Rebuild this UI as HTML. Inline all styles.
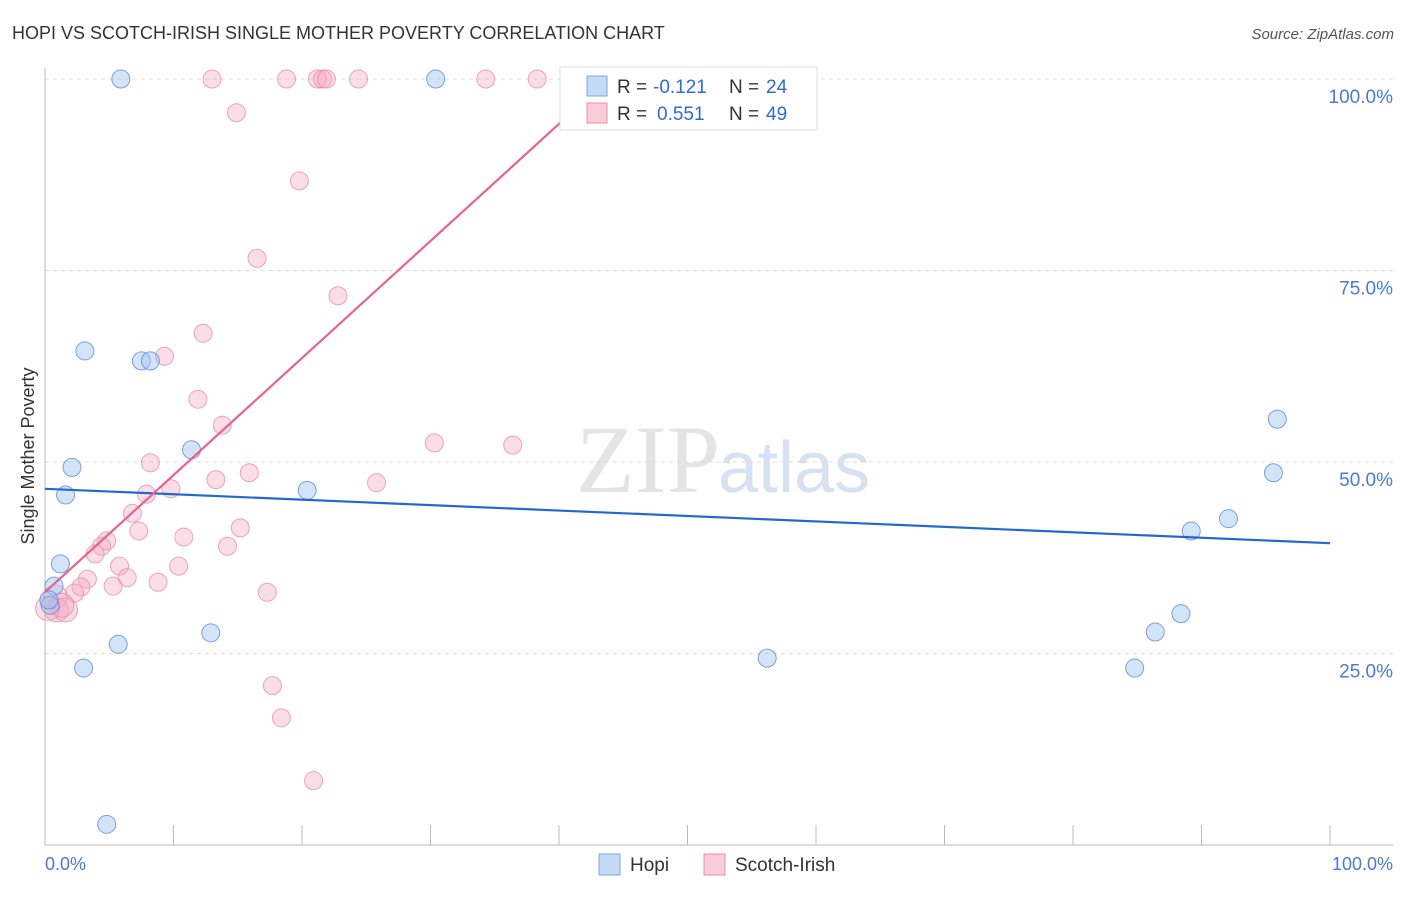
<!DOCTYPE html>
<html><head><meta charset="utf-8"><style>
body{margin:0;background:#fff;font-family:"Liberation Sans",sans-serif}
</style></head><body>
<svg width="1406" height="892" xmlns="http://www.w3.org/2000/svg">
<text x="12" y="39" font-size="18" fill="#333">HOPI VS SCOTCH-IRISH SINGLE MOTHER POVERTY CORRELATION CHART</text>
<text x="1394" y="39" font-size="15" fill="#555" font-style="italic" text-anchor="end">Source: ZipAtlas.com</text>
<text x="720" y="492" font-size="96" fill="#e4e4e4" text-anchor="end" font-family="Liberation Serif">ZIP</text>
<text x="718" y="492" font-size="72" fill="#d6e2f2">atlas</text>
<g id="grid"></g>
<line x1="45" y1="68" x2="45" y2="845" stroke="#bbb"/>
<line x1="45" y1="845" x2="1393" y2="845" stroke="#bbb"/>
<text x="34" y="456" font-size="18" fill="#333" text-anchor="middle" transform="rotate(-90 34 456)">Single Mother Poverty</text>
<text x="45" y="870" font-size="18" fill="#4a7bd0">0.0%</text>
<text x="1393" y="870" font-size="18" fill="#4a7bd0" text-anchor="end">100.0%</text>
<g id="marks"></g>
<g>
<rect x="560" y="67" width="257" height="63" fill="#fff" stroke="#ddd"/>
<rect x="587" y="76" width="20" height="20" fill="#c5daf5" stroke="#7fa6e0"/>
<rect x="587" y="103" width="20" height="20" fill="#f8ccd9" stroke="#e890ac"/>
<text x="617" y="93" font-size="19" fill="#333">R =</text>
<text x="653" y="93" font-size="19" fill="#2f6bd0">-0.121</text>
<text x="729" y="93" font-size="19" fill="#333">N =</text>
<text x="766" y="93" font-size="19" fill="#2f6bd0">24</text>
<text x="617" y="120" font-size="19" fill="#333">R =</text>
<text x="657" y="120" font-size="19" fill="#2f6bd0">0.551</text>
<text x="729" y="120" font-size="19" fill="#333">N =</text>
<text x="766" y="120" font-size="19" fill="#2f6bd0">49</text>
</g>
<g>
<rect x="599" y="854" width="21" height="21" fill="#c5daf5" stroke="#7fa6e0"/>
<text x="630" y="871" font-size="19" fill="#333">Hopi</text>
<rect x="704" y="854" width="21" height="21" fill="#f8ccd9" stroke="#e890ac"/>
<text x="735" y="871" font-size="19" fill="#333">Scotch-Irish</text>
</g>
</svg>
<script>
const yTicks=[25,50,75,100];
const yTickLabels=["25.0%","50.0%","75.0%","100.0%"];
const xTicks=[0,10,20,30,40,50,60,70,80,90,100];
const hopiX=[5.9,30.4,3.1,7.5,8.2,2.1,1.6,11.4,20.4,1.2,0.7,0.4,5.7,12.9,3.0,4.8,56.2,84.8,86.4,88.4,89.2,92.1,95.6,95.9,0.3];
const hopiY=[100,100,64.5,63.2,63.2,49.3,45.7,51.6,46.3,36.7,33.8,31.3,26.2,27.7,23.1,2.7,24.4,23.1,27.8,30.2,41.0,42.6,48.6,55.6,32];
const siX=[13.0,18.8,21.2,21.6,21.9,24.4,34.3,38.3,14.9,19.8,16.5,22.8,12.3,9.3,11.9,13.8,30.3,36.4,8.2,15.9,13.3,25.8,9.8,7.9,6.8,7.3,15.2,10.8,14.2,4.8,4.4,3.9,5.8,10.4,6.4,8.8,3.3,5.3,2.8,2.3,17.3,0.8,0.9,1.6,1.3,0.2,17.7,18.4,20.9];
const siY=[100,100,100,100,100,100,100,100,95.6,86.7,76.6,71.7,66.8,63.8,58.2,54.8,52.5,52.2,49.9,48.6,47.7,47.3,46.5,45.8,43.3,41.0,41.4,40.2,39.0,39.7,39.0,38.0,36.4,36.4,34.9,34.3,34.7,33.8,33.7,32.9,33.0,32.4,30.7,30.7,31.3,30.9,20.8,16.6,8.4];
const hopiTrend=[46.5,39.4];
const siTrend=[33,94.9];
const siTrendEndX=40.5;
const NS="http://www.w3.org/2000/svg";
const X=v=>45+v*12.85, Y=v=>845-v*7.66;
function mk(tag,attrs,parent){const e=document.createElementNS(NS,tag);for(const k in attrs)e.setAttribute(k,attrs[k]);document.getElementById(parent).appendChild(e);return e;}
yTicks.forEach((t,i)=>{
 const l=mk('line',{x1:45,x2:1393,y1:Y(t),y2:Y(t),stroke:'#ddd','stroke-dasharray':'4,4'},'grid');
 
 
 const tx=mk('text',{x:1393,y:Y(t)+24,'font-size':19,fill:'#4a7bd0','text-anchor':'end'},'grid');
 tx.textContent=yTickLabels[i];
 
 
});
xTicks.forEach(t=>{
 const l=mk('line',{x1:X(t),x2:X(t),y1:825,y2:845,stroke:'#bbb'},'grid');
 
 
});
siX.forEach((x,i)=>{
 const big=x<2&&siY[i]<33;
 const c=mk('circle',{cx:X(x),cy:Y(siY[i]),r:big?12:9,fill:'rgba(244,170,195,0.4)',stroke:'rgba(228,130,165,0.7)','stroke-width':1},'marks');
 
 
});
hopiX.forEach((x,i)=>{
 const c=mk('circle',{cx:X(x),cy:Y(hopiY[i]),r:9,fill:'rgba(160,195,240,0.45)',stroke:'rgba(90,140,215,0.8)','stroke-width':1},'marks');
 
 
});
const hl=mk('line',{x1:X(0),y1:Y(hopiTrend[0]),x2:X(100),y2:Y(hopiTrend[1]),stroke:'#2268d0','stroke-width':2.2},'marks');


const sl=mk('line',{x1:X(0),y1:Y(siTrend[0]),x2:X(siTrendEndX),y2:Y(siTrend[1]),stroke:'#e8628f','stroke-width':2.2},'marks');


</script>
</body></html>
